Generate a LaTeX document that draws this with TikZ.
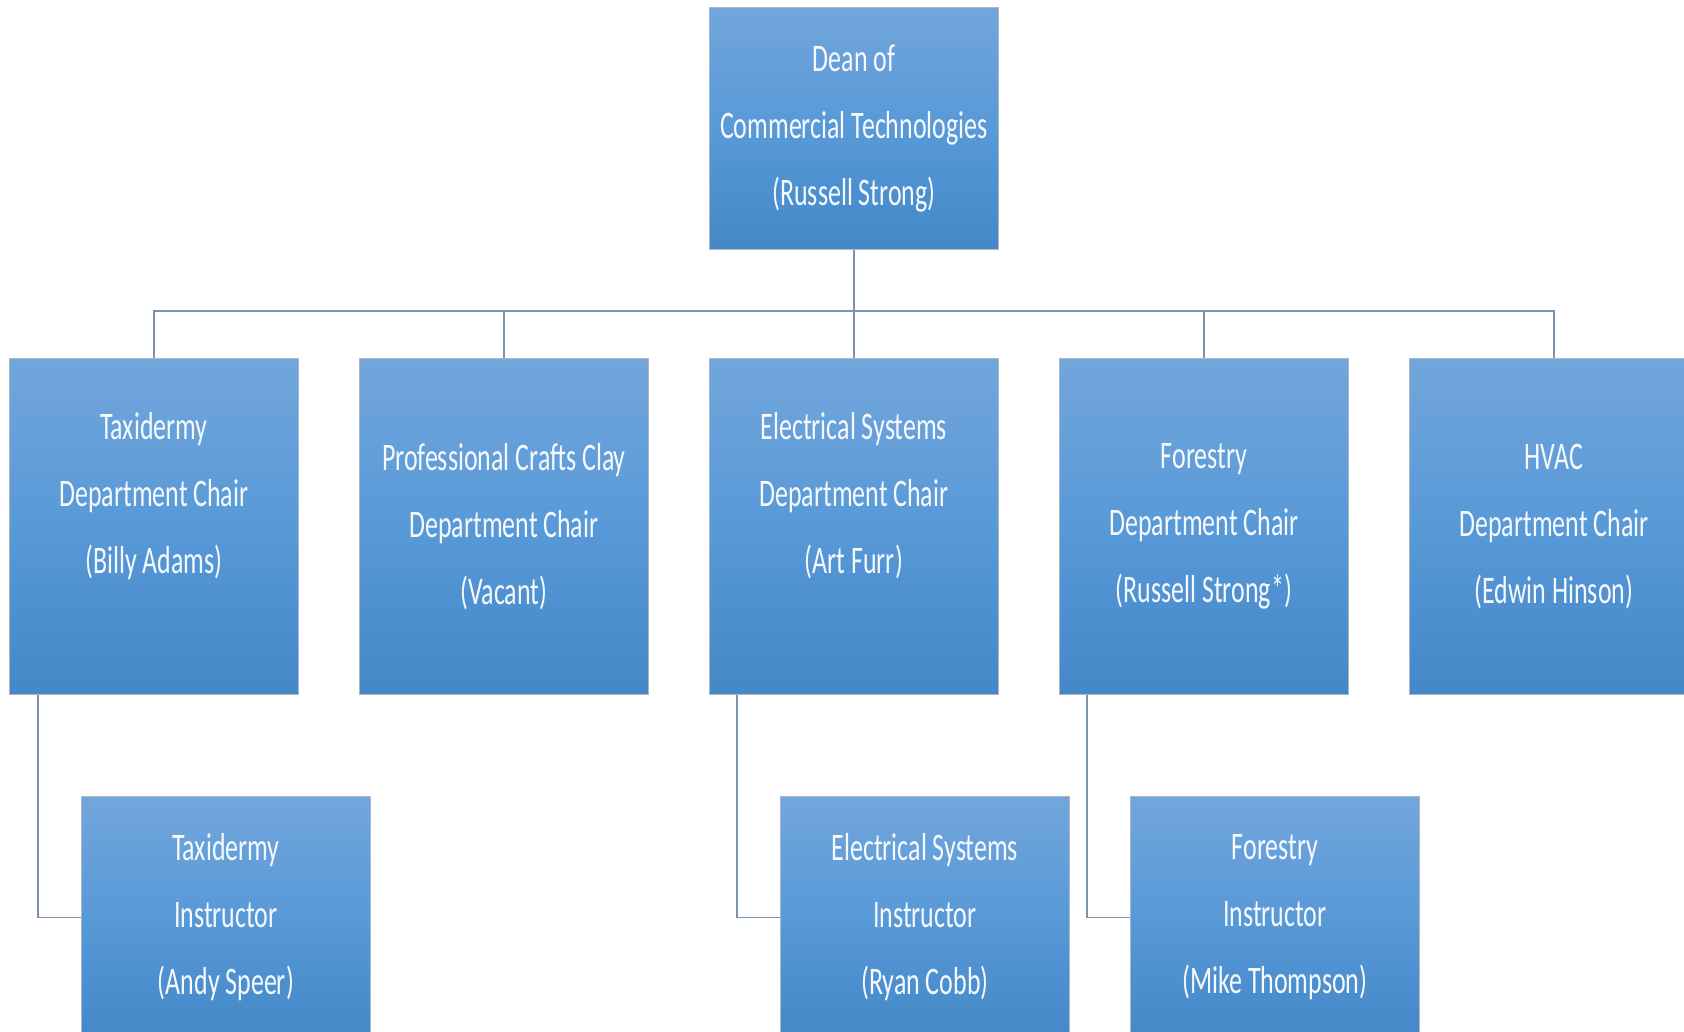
\documentclass[tikz,border=0pt]{standalone}
\usepackage{fontspec}
\setmainfont{Carlito}[FakeStretch=0.665]
\usetikzlibrary{positioning}

\definecolor{boxtop}{RGB}{114,166,219}
\definecolor{boxmid}{RGB}{88,153,216}
\definecolor{boxbot}{RGB}{68,136,199}
\definecolor{boxedge}{RGB}{170,184,202}
\definecolor{linkcol}{RGB}{122,146,172}
\definecolor{labelcol}{RGB}{246,249,253}

\tikzset{
  orgbox/.style={
    rectangle, anchor=north west, inner sep=0pt,
    minimum width=289pt, minimum height=336pt,
    top color=boxtop, bottom color=boxbot, middle color=boxmid,
    draw=boxedge, line width=0.8pt,
    text=labelcol, align=center,
    font=\fontsize{39}{67}\selectfont
  },
  deanbox/.style={orgbox, minimum height=242pt},
  staffbox/.style={orgbox, minimum height=242pt},
  link/.style={draw=linkcol, line width=1.8pt}
}

\begin{document}
\begin{tikzpicture}[x=1pt, y=-1pt]
  \useasboundingbox (0,0) rectangle (1684,1031);
  \fill[white] (0,0) rectangle (1684,1031);

  % dean
  \node[deanbox] (dean) at (709,7) {Dean of\\Commercial Technologies\\(Russell Strong)};

  % department chairs
  \node[orgbox] (taxchair)   at (9,358)    {Taxidermy\\Department Chair\\(Billy Adams)\\~};
  \node[orgbox] (craftchair) at (359,358)  {Professional Crafts Clay\\Department Chair\\(Vacant)};
  \node[orgbox] (elecchair)  at (709,358)  {Electrical Systems\\Department Chair\\(Art Furr)\\~};
  \node[orgbox] (forchair)   at (1059,358) {Forestry\\Department Chair\\(Russell Strong*)};
  \node[orgbox] (hvacchair)  at (1409,358) {HVAC\\Department Chair\\(Edwin Hinson)};

  % instructors
  \node[staffbox] (taxinst)  at (81,796)   {Taxidermy\\Instructor\\(Andy Speer)};
  \node[staffbox] (elecinst) at (780,796)  {Electrical Systems\\Instructor\\(Ryan Cobb)};
  \node[staffbox] (forinst)  at (1130,796) {Forestry\\Instructor\\(Mike Thompson)};

  % dean to chairs
  \foreach \c in {taxchair, craftchair, forchair, hvacchair}
    \draw[link] (dean.south) -- ++(0,61) -| (\c.north);
  \draw[link] (dean.south) -- (elecchair.north);

  % chairs to instructors
  \draw[link] ([xshift=29pt]taxchair.south west)  |- (taxinst.west);
  \draw[link] ([xshift=28pt]elecchair.south west) |- (elecinst.west);
  \draw[link] ([xshift=28pt]forchair.south west)  |- (forinst.west);
\end{tikzpicture}
\end{document}
